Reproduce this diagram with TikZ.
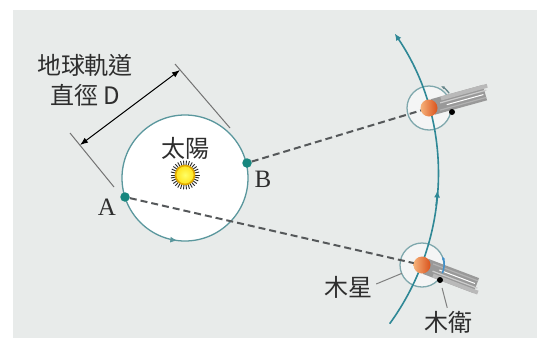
\documentclass[tikz,border=0pt]{standalone}
\usepackage{fontspec}
\newfontfamily\cjk{Noto Sans CJK TC}
\newfontfamily\romanfont{Liberation Serif}
\usetikzlibrary{arrows.meta}

\definecolor{paper}{HTML}{E8EBEA}
\definecolor{orbitteal}{HTML}{2F8896}
\definecolor{earthteal}{HTML}{5A979D}
\definecolor{dotteal}{HTML}{17867E}
\definecolor{moonring}{HTML}{7FA8AD}
\definecolor{sightgray}{HTML}{55585A}
\definecolor{inkgray}{HTML}{2E2E2E}
\definecolor{jupdark}{HTML}{D9521C}
\definecolor{juplight}{HTML}{F6B27A}
\definecolor{sunyellow}{HTML}{FFE21A}
\definecolor{sunrim}{HTML}{E0A800}
\definecolor{spinblue}{HTML}{3F8FCB}

\tikzset{
  cjklabel/.style={font=\cjk\fontsize{24}{30}\selectfont, text=inkgray, inner sep=0pt},
  romanlabel/.style={font=\romanfont\fontsize{25}{27}\selectfont, text=inkgray, inner sep=0pt},
  orbit/.style={draw=orbitteal, line width=1.6pt},
  earthorbit/.style={draw=earthteal, line width=1.3pt},
  sight/.style={draw=sightgray, line width=2pt, dash pattern=on 7pt off 4pt},
  leader/.style={draw=gray, line width=1pt},
  extline/.style={draw=gray!90!black, line width=1pt},
  earthpos/.style={circle, fill=dotteal, minimum size=9.5pt, inner sep=0pt},
  jupiter/.style={circle, minimum size=17pt, inner sep=0pt, left color=juplight, right color=jupdark},
  moon/.style={circle, fill=black, minimum size=6pt, inner sep=0pt},
  moonorbit/.style={draw=moonring, line width=1.3pt, fill=white, fill opacity=0.55},
  tip/.style={-{Latex[length=7pt,width=6pt]}},
}

\begin{document}
\begin{tikzpicture}[x=1pt,y=-1pt]
\useasboundingbox (0,0) rectangle (541,338);
\fill[paper] (13,10) rectangle (537,338);

\coordinate (sun) at (185,175);
\coordinate (earth) at (185,178);
\coordinate (jup1) at (429,108);
\coordinate (jup2) at (422,265);

% earth orbit and the diameter mark
\draw[earthorbit, fill=white] (earth) circle[radius=63];
\draw[earthorbit, tip] (earth) ++(101:63) arc[start angle=101, end angle=97, radius=63];
\draw[extline] (70,133) -- (114,187);
\draw[extline] (175,64) -- (230,128);
\draw[black, line width=1pt, {Latex[length=8pt,width=6pt]}-{Latex[length=8pt,width=6pt]}] (80,145) -- (180,70);

% sun
\foreach \a in {0,12,...,348}
  \draw[gray!30!black, line width=0.9pt] (sun) ++(\a:9) -- ++(\a:5.5);
\node[circle, inner color=yellow!60, outer color=sunyellow, draw=sunrim, line width=1.6pt, minimum size=19pt, inner sep=0pt] (sunnode) at (sun) {};

\node[earthpos] (A) at (125,197) {};
\node[earthpos] (B) at (247,163) {};

% moon orbits round jupiter
\draw[moonorbit] (jup1) circle[radius=22];
\draw[moonorbit] (jup2) circle[radius=22];

\draw[sight] (B) -- (jup1);
\draw[sight] (A) -- (jup2);

% jupiter orbit
\draw[orbit, tip] (sun) ++(36:253) arc[start angle=36, end angle=-34, radius=253];
\draw[orbit, tip] (sun) ++(7:253) arc[start angle=7, end angle=3.5, radius=253];

% shadows behind jupiter
\begin{scope}[shift={(jup1)}, rotate=15.4]
  \fill[gray!80] (4,-8) rectangle (58,8);
  \fill[gray!55] (14,-8) rectangle (62,-4);
  \draw[gray!40, line width=1.2pt] (12,-2) -- (60,-2);
  \draw[white, line width=1pt] (18,1.5) -- (56,1.5);
  \draw[gray!60, line width=1.2pt] (10,5) -- (58,5);
\end{scope}
\begin{scope}[shift={(jup2)}, rotate=-20.8]
  \fill[gray!80] (4,-8) rectangle (58,8);
  \fill[gray!55] (14,4) rectangle (62,8);
  \draw[gray!40, line width=1.2pt] (12,2) -- (60,2);
  \draw[white, line width=1pt] (18,-1.5) -- (56,-1.5);
  \draw[gray!60, line width=1.2pt] (10,-5) -- (58,-5);
\end{scope}

\node[jupiter] (J1) at (jup1) {};
\node[jupiter] (J2) at (jup2) {};
\node[moon] (M1) at (452,112) {};
\node[moon] (M2) at (440,280) {};

% moon spin
\draw[moonring!80!black, line width=1.3pt, -{Latex[length=4pt]}] (jup1) ++(-36:25) arc[start angle=-36, end angle=-62, radius=25];
\draw[spinblue, line width=1.5pt, -{Latex[length=4pt]}] (jup2) ++(22:22) arc[start angle=22, end angle=-24, radius=22];

% labels
\node[cjklabel, align=center] (dimtext) at (85,80) {地球軌道\\直徑 D};
\node[cjklabel] (sunlabel) at (185,148) {太陽};
\node[romanlabel] (Alabel) at (107,207) {A};
\node[romanlabel] (Blabel) at (263,179) {B};
\node[cjklabel] (juplabel) at (348,287) {木星};
\node[cjklabel] (moonlabel) at (448,322) {木衛};
\draw[leader, shorten >=13pt] ([xshift=4pt,yshift=3pt]juplabel.east) -- (J2);
\draw[leader, shorten <=5pt, shorten >=3pt] (M2) -- (moonlabel.north);
\end{tikzpicture}
\end{document}
